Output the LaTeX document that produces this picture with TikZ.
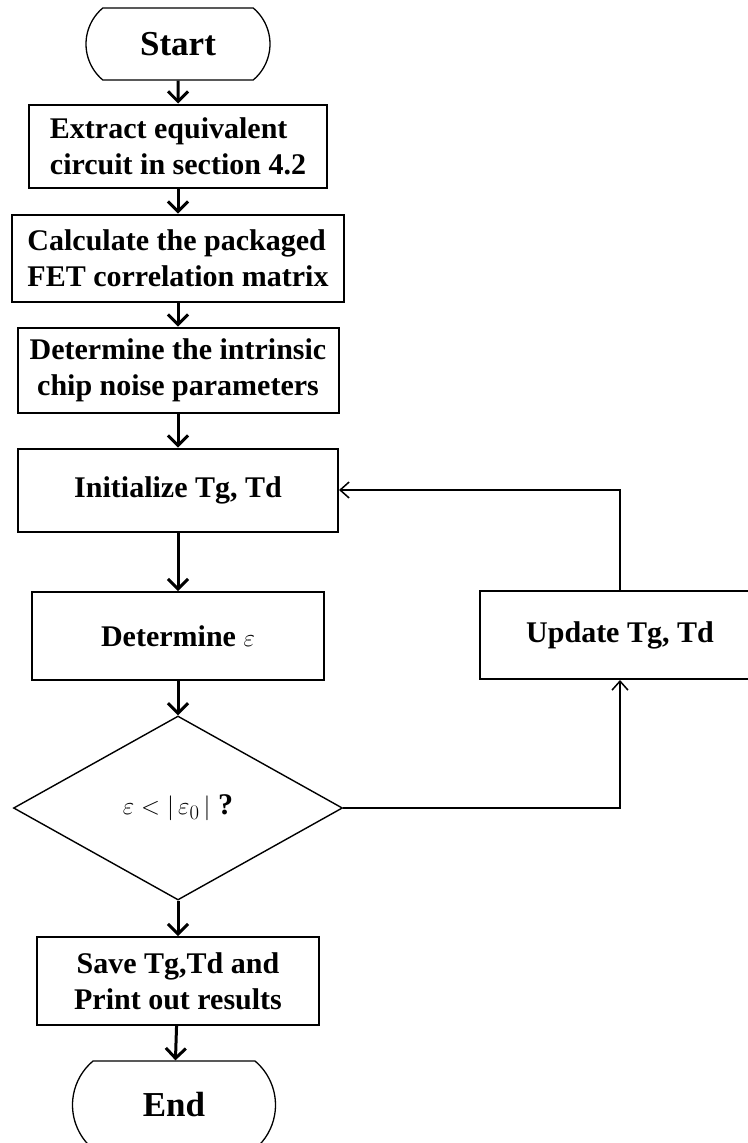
\documentclass[tikz,border=0pt]{standalone}
\usepackage{fontspec}
\setmainfont{Liberation Serif}
\usetikzlibrary{arrows.meta,shapes.geometric,shapes.misc}

\tikzset{
  block/.style={draw, line width=2pt, rectangle, inner sep=0pt, font=\fontsize{30}{36}\selectfont\bfseries},
  term/.style={draw, line width=1.3pt, rounded rectangle, rounded rectangle arc length=100, inner sep=0pt, font=\fontsize{35}{40}\selectfont\bfseries},
  decide/.style={draw, line width=1.4pt, diamond, inner sep=0pt, font=\fontsize{30}{36}\selectfont},
  flow/.style={line width=3pt, -{Straight Barb[length=10pt,width=20pt]}},
  feed/.style={line width=1.5pt, -{Straight Barb[length=9pt,width=16pt]}}
}

\begin{document}
\begin{tikzpicture}[x=1pt, y=-1pt]
\useasboundingbox (0,0) rectangle (747,1143);

\node[term, minimum width=184pt, minimum height=72pt] (v1) at (178,44) {Start};
\node[block, minimum width=298pt, minimum height=83pt, align=left] (v2) at (178,146) {Extract equivalent\\circuit in section 4.2};
\node[block, minimum width=332pt, minimum height=87pt, align=left] (v3) at (178,258) {Calculate the packaged\\FET correlation matrix};
\node[block, minimum width=321pt, minimum height=85pt, align=center] (v4) at (178,370) {Determine the intrinsic\\chip noise parameters};
\node[block, minimum width=320pt, minimum height=83pt] (v5) at (178,490) {Initialize Tg, Td};
\node[block, minimum width=292pt, minimum height=88pt] (v6) at (178,636) {Determine~$\varepsilon$};
\node[decide, minimum width=329pt, minimum height=184pt] (v7) at (178,808) {$\varepsilon<|\,\varepsilon_0\,|$ \textbf{?}};
\node[block, minimum width=280pt, minimum height=88pt] (v8) at (620,635) {Update Tg, Td};
\node[block, minimum width=282pt, minimum height=88pt, align=center] (v9) at (178,981) {Save Tg,Td and\\Print out results};
\node[term, minimum width=203pt, minimum height=88pt] (v10) at (174,1105) {End};

\draw [flow] (v1) edge (v2);
\draw [flow] (v2) edge (v3);
\draw [flow] (v3) edge (v4);
\draw [flow] (v4) edge (v5);
\draw [flow] (v5) edge (v6);
\draw [flow] (v6) edge (v7);
\draw [flow] (v7) edge (v9);
\draw [flow] (v9) edge (v10);
\draw [feed] (v7) -| (v8);
\draw [feed] (v8) |- (v5);
\end{tikzpicture}
\end{document}
